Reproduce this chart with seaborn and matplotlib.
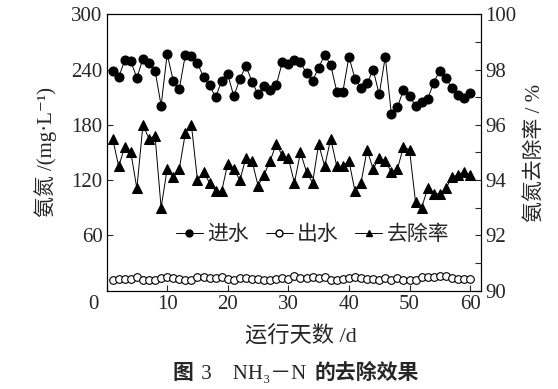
import matplotlib
matplotlib.use('Agg')
import matplotlib.pyplot as plt
import matplotlib.transforms as mtransforms
import seaborn as sns
from matplotlib.lines import Line2D
from matplotlib.ticker import MultipleLocator
from matplotlib.offsetbox import TextArea, HPacker, AnchoredOffsetbox

days = list(range(1, 61))

# 进水 氨氮 (mg/L)
inflow = [239, 232, 250, 249, 231, 252, 247, 239, 201, 257,
          228, 219, 256, 255, 247, 232, 223, 210, 228, 235,
          211, 230, 244, 227, 213, 222, 218, 223, 248, 246,
          251, 248, 236, 228, 242, 256, 245, 216, 216, 254,
          230, 220, 225, 240, 213, 254, 192, 199, 218, 211,
          201, 205, 208, 226, 239, 231, 220, 212, 209, 215]

# 出水 氨氮 (mg/L)
outflow = [12, 13, 13, 13, 15, 12, 11, 12, 14, 15,
           14, 13, 12, 11, 15, 15, 14, 14, 15, 13,
           12, 14, 14, 13, 13, 12, 12, 13, 14, 13,
           16, 14, 14, 15, 14, 15, 12, 12, 13, 14,
           15, 14, 13, 13, 12, 14, 12, 14, 12, 12,
           11, 15, 15, 15, 16, 16, 14, 13, 13, 13]

# 去除率 (%)
removal = [95.5, 94.5, 95.2, 95.0, 93.7, 96.0, 95.5, 95.6, 93.0, 94.4,
           94.1, 94.4, 95.7, 96.0, 94.0, 94.3, 93.9, 93.6, 93.6, 94.6,
           94.4, 94.0, 94.8, 94.7, 93.8, 94.2, 94.7, 95.3, 94.9, 94.8,
           93.9, 95.0, 94.3, 93.9, 95.3, 94.5, 95.5, 94.5, 94.5, 94.7,
           93.6, 93.9, 95.1, 94.4, 94.8, 94.7, 94.3, 94.4, 95.2, 95.1,
           93.2, 93.0, 93.7, 93.5, 93.5, 93.7, 94.1, 94.2, 94.3, 94.2]

left_ticks = [60, 120, 180, 240, 300]
right_ticks = [90, 92, 94, 96, 98, 100]
x_ticks = [0, 10, 20, 30, 40, 50, 60]

sns.set_style('ticks')
plt.rcParams['font.family'] = ['Liberation Serif', 'Noto Sans CJK SC', 'DejaVu Serif']
plt.rcParams['font.size'] = 15

fig = plt.figure(figsize=(5.58, 3.89), dpi=100)
ax = fig.add_axes([0.191, 0.253, 0.671, 0.710])
ax2 = ax.twinx()

sns.lineplot(x=days, y=inflow, ax=ax, color='black', lw=0.7,
             marker='o', markersize=6.5, markeredgecolor='black')
sns.lineplot(x=days, y=outflow, ax=ax, color='black', lw=0.7,
             marker='o', markersize=5.5, markerfacecolor='white',
             markeredgecolor='black', markeredgewidth=0.8)
sns.lineplot(x=days, y=removal, ax=ax2, color='black', lw=0.7,
             marker='^', markersize=6.5, markeredgecolor='black')

ax.set_xlim(0, 61.8)
ax.set_ylim(0, 300)
ax2.set_ylim(90, 100)
ax.set_xticks(x_ticks)
ax.set_yticks(left_ticks)
ax2.set_yticks(right_ticks)
ax2.yaxis.set_minor_locator(MultipleLocator(1))

for a in (ax, ax2):
    for s in a.spines.values():
        s.set_linewidth(0.8)
        s.set_color('black')
ax.tick_params(direction='in', length=4, width=0.8, labelsize=15, pad=3)
ax2.tick_params(which='both', direction='in', length=4, width=0.8, labelsize=15, pad=3)

# origin label sits a little left of the corner
lbl0 = ax.get_xticklabels()[0]
lbl0.set_transform(lbl0.get_transform() +
                   mtransforms.ScaledTranslation(-0.13, 0, fig.dpi_scale_trans))

ax.set_xlabel('运行天数 /d', fontsize=16, labelpad=4)
ax.xaxis.set_label_coords(0.52, -0.13)
ax.set_ylabel('氨氮 /(mg·L⁻¹)', fontsize=15, labelpad=10)
ax2.set_ylabel('氨氮去除率 / %', fontsize=15, labelpad=6)

handles = [
    Line2D([], [], color='black', lw=0.7, marker='o', markersize=5),
    Line2D([], [], color='black', lw=0.7, marker='o', markersize=5,
           markerfacecolor='white'),
    Line2D([], [], color='black', lw=0.7, marker='^', markersize=5),
]
ax.legend(handles, ['进水', '出水', '去除率'], loc='center', ncol=3,
          bbox_to_anchor=(0.55, 0.20), frameon=False, fontsize=15,
          handlelength=1.3, handletextpad=0.2, columnspacing=0.8)

cjk_bold = dict(fontsize=15, fontweight='bold', family=['Noto Sans CJK SC'])
plain = dict(fontsize=15, family=['Liberation Serif', 'Noto Sans CJK SC', 'DejaVu Serif'])
caption = HPacker(children=[TextArea('图', textprops=cjk_bold),
                            TextArea(' 3    NH₃－N ', textprops=plain),
                            TextArea('的去除效果', textprops=cjk_bold)],
                  align='baseline', pad=0, sep=2)
fig.add_artist(AnchoredOffsetbox(loc='center', child=caption, frameon=False,
                                 bbox_to_anchor=(0.53, 0.04),
                                 bbox_transform=fig.transFigure, pad=0))

plt.savefig('out.png', dpi=100)
